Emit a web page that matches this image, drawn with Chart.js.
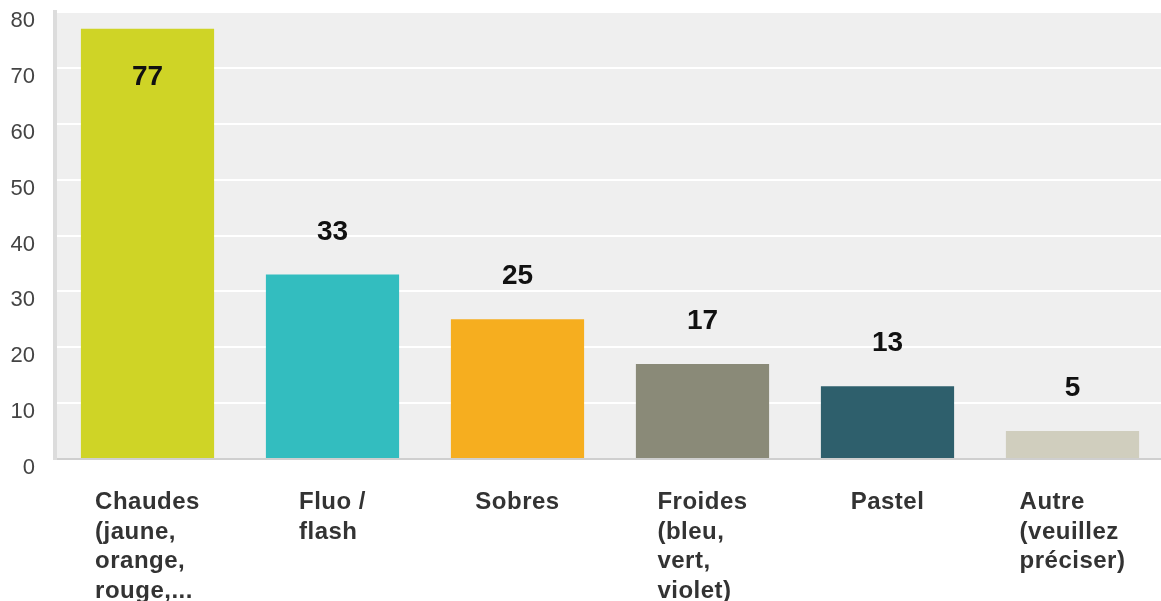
<!DOCTYPE html>
<html lang="fr">
	<head>
		<meta charset="UTF-8" />
		<title>Couleurs</title>
		<script src="https://cdn.jsdelivr.net/npm/chart.js"></script>
		<style>
			html,
			body {
				margin: 0;
				padding: 0;
				background: #ffffff;
				overflow: hidden;
			}
			.chart-c {
				width: 1165px;
				height: 601px;
			}
		</style>
	</head>
	<body>
		<div class="chart-c">
			<canvas id="myChart"></canvas>
		</div>
		<script>
			// categories (lignes du libellé) et valeurs
			const categories = [
				["Chaudes", "(jaune,", "orange,", "rouge,..."],
				["Fluo /", "flash"],
				["Sobres"],
				["Froides", "(bleu,", "vert,", "violet)"],
				["Pastel"],
				["Autre", "(veuillez", "préciser)"],
			];
			const valeurs = [77, 33, 25, 17, 13, 5];
			const couleurs = [
				"#cfd426",
				"#33bdbf",
				"#f6ae1f",
				"#8a8a78",
				"#2e5f6c",
				"#d0cebe",
			];
			const yTicks = [0, 10, 20, 30, 40, 50, 60, 70, 80];

			// fond gris de la zone du graphique
			const fondPlugin = {
				id: "fond",
				beforeDraw(chart) {
					const { ctx, chartArea } = chart;
					ctx.save();
					ctx.fillStyle = "#efefef";
					ctx.fillRect(
						chartArea.left,
						chartArea.top,
						chartArea.right - chartArea.left,
						chartArea.bottom - chartArea.top
					);
					ctx.restore();
				},
			};

			// valeurs au dessus (ou dans) les barres
			const valeursPlugin = {
				id: "valeurs",
				afterDatasetsDraw(chart) {
					const { ctx, chartArea } = chart;
					const meta = chart.getDatasetMeta(0);
					ctx.save();
					ctx.font = "bold 28px 'Liberation Sans', Arial, sans-serif";
					ctx.fillStyle = "#111111";
					ctx.textAlign = "center";
					ctx.textBaseline = "alphabetic";
					meta.data.forEach((bar, i) => {
						let y = bar.y - 45;
						if (y - 12 < chartArea.top) y = bar.y + 46;
						ctx.fillText(String(valeurs[i]), bar.x, y + 10);
					});
					ctx.restore();
				},
			};

			// libellés des catégories : bloc centré, lignes alignées à gauche
			const libellesPlugin = {
				id: "libelles",
				afterDraw(chart) {
					const { ctx } = chart;
					const xScale = chart.scales.x;
					ctx.save();
					ctx.font = "bold 24px 'Liberation Sans', Arial, sans-serif";
					ctx.letterSpacing = "0.5px";
					ctx.fillStyle = "#333333";
					ctx.textAlign = "left";
					ctx.textBaseline = "alphabetic";
					categories.forEach((lignes, i) => {
						const x = xScale.getPixelForValue(i);
						const w = Math.max(
							...lignes.map((l) => ctx.measureText(l).width)
						);
						const gauche = x - w / 2;
						lignes.forEach((l, j) => {
							ctx.fillText(l, gauche, 509 + j * 29.5);
						});
					});
					ctx.restore();
				},
			};

			const ctx = document.getElementById("myChart").getContext("2d");
			new Chart(ctx, {
				type: "bar",
				data: {
					labels: categories,
					datasets: [
						{
							data: valeurs,
							backgroundColor: couleurs,
							borderWidth: 0,
							barPercentage: 0.72,
							categoryPercentage: 1,
						},
					],
				},
				options: {
					responsive: true,
					maintainAspectRatio: false,
					animation: false,
					layout: {
						padding: { top: 12, left: 0, right: 0, bottom: 0 },
					},
					plugins: {
						legend: { display: false },
						tooltip: { enabled: false },
					},
					scales: {
						x: {
							grid: { display: false, drawTicks: false },
							border: { display: true, color: "#cfcfcf", width: 2 },
							ticks: { display: false },
							afterFit: (s) => {
								s.height = 142;
								s.paddingLeft = 0;
								s.paddingRight = 0;
							},
						},
						y: {
							min: 0,
							max: 80,
							afterBuildTicks: (s) => {
								s.ticks = yTicks.map((v) => ({ value: v }));
							},
							grid: {
								color: "#ffffff",
								lineWidth: 2,
								drawTicks: false,
							},
							border: { display: true, color: "#dcdcdc", width: 4 },
							ticks: {
								padding: 20,
								labelOffset: 9,
								color: "#444444",
								font: {
									family: "'Liberation Sans', Arial, sans-serif",
									size: 22,
								},
							},
							afterFit: (s) => {
								s.width = 55;
								s.paddingTop = 0;
								s.paddingBottom = 0;
							},
						},
					},
				},
				plugins: [fondPlugin, valeursPlugin, libellesPlugin],
			});
		</script>
	</body>
</html>
